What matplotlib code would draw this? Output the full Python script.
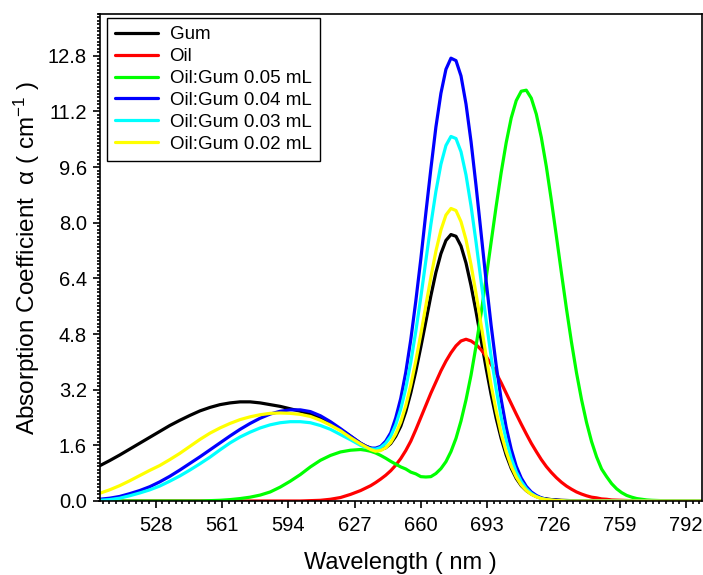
import matplotlib
matplotlib.use("Agg")
import matplotlib.pyplot as plt
from matplotlib.ticker import MultipleLocator, AutoMinorLocator, FormatStrFormatter

plt.rcParams['font.family'] = ['Liberation Sans', 'DejaVu Sans']
plt.rcParams['mathtext.fontset'] = 'custom'
plt.rcParams['mathtext.rm'] = 'Liberation Sans'
plt.rcParams['mathtext.it'] = 'Liberation Sans:italic'

####################################################################
# data

wavelength = [500, 505, 510, 515, 520, 525, 530, 535, 540, 545,
              550, 555, 560, 565, 570, 575, 580, 585, 590, 595,
              600, 605, 610, 615, 620, 625,
              630, 632.5, 635, 637.5, 640, 642.5, 645, 647.5,
              650, 652.5, 655, 657.5, 660, 662.5, 665, 667.5, 670, 672.5,
              675, 677.5, 680, 682.5, 685, 687.5, 690, 692.5, 695, 697.5,
              700, 702.5, 705, 707.5, 710, 712.5, 715, 717.5, 720, 722.5,
              725, 727.5, 730,
              732.5, 735, 737.5, 740, 742.5, 745, 747.5, 750, 752.5, 755,
              757.5, 760, 762.5, 765, 767.5, 770, 772.5, 775,
              780, 785, 790, 795, 800]

gum = [1.01, 1.16, 1.32, 1.49, 1.66, 1.83, 2.00, 2.17, 2.32, 2.46,
       2.59, 2.69, 2.77, 2.82, 2.85, 2.85, 2.82, 2.77, 2.72, 2.65,
       2.58, 2.49, 2.38, 2.23, 2.05, 1.86,
       1.66, 1.58, 1.52, 1.48, 1.48, 1.53, 1.65, 1.86,
       2.15, 2.57, 3.11, 3.73, 4.43, 5.16, 5.90, 6.57, 7.11, 7.49,
       7.66, 7.61, 7.33, 6.84, 6.19, 5.44, 4.64, 3.82, 3.06, 2.38,
       1.80, 1.32, 0.94, 0.65, 0.44, 0.30, 0.20, 0.13, 0.08, 0.06,
       0.04, 0.03, 0.02,
       0.015, 0.01, 0.01, 0.01, 0.005, 0, 0, 0, 0, 0,
       0, 0, 0, 0, 0, 0, 0, 0,
       0, 0, 0, 0, 0]

oil = [0, 0, 0, 0, 0, 0, 0, 0, 0, 0,
       0, 0, 0, 0, 0, 0, 0, 0, 0, 0,
       0, 0.01, 0.02, 0.05, 0.10, 0.19,
       0.30, 0.37, 0.44, 0.53, 0.63, 0.74, 0.87, 1.03,
       1.22, 1.45, 1.72, 2.05, 2.40, 2.75, 3.10, 3.42, 3.74, 4.02,
       4.26, 4.46, 4.60, 4.65, 4.60, 4.50, 4.35, 4.16, 3.93, 3.68,
       3.40, 3.10, 2.80, 2.50, 2.21, 1.93, 1.66, 1.42, 1.19, 0.99,
       0.82, 0.67, 0.54,
       0.43, 0.34, 0.26, 0.20, 0.15, 0.11, 0.09, 0.06, 0.05, 0.03,
       0.025, 0.02, 0.015, 0.01, 0.005, 0, 0, 0,
       0, 0, 0, 0, 0]

mix_005 = [0, 0, 0, 0, 0, 0, 0, 0, 0, 0,
           0, 0.01, 0.02, 0.04, 0.07, 0.11, 0.17, 0.26, 0.40, 0.57,
           0.76, 0.98, 1.17, 1.31, 1.41, 1.46,
           1.48, 1.46, 1.43, 1.38, 1.31, 1.23, 1.14, 1.06,
           0.98, 0.92, 0.83, 0.78, 0.70, 0.69, 0.70, 0.79, 0.93, 1.13,
           1.42, 1.80, 2.30, 2.91, 3.62, 4.46, 5.39, 6.40, 7.44, 8.47,
           9.44, 10.30, 11.01, 11.51, 11.78, 11.81, 11.58, 11.12, 10.45, 9.61,
           8.64, 7.61, 6.56,
           5.53, 4.57, 3.69, 2.92, 2.26, 1.71, 1.27, 0.92, 0.70, 0.50,
           0.35, 0.24, 0.16, 0.11, 0.07, 0.05, 0.03, 0.02,
           0.01, 0, 0, 0, 0]

mix_004 = [0.05, 0.08, 0.13, 0.21, 0.30, 0.41, 0.55, 0.71, 0.89, 1.08,
           1.27, 1.47, 1.67, 1.87, 2.06, 2.23, 2.38, 2.50, 2.58, 2.62,
           2.62, 2.57, 2.45, 2.28, 2.08, 1.87,
           1.66, 1.58, 1.52, 1.52, 1.57, 1.72, 1.96, 2.39,
           2.95, 3.70, 4.64, 5.75, 6.96, 8.28, 9.55, 10.75, 11.72, 12.41,
           12.73, 12.66, 12.22, 11.41, 10.33, 9.06, 7.70, 6.33, 5.05, 3.91,
           2.92, 2.12, 1.49, 1.00, 0.66, 0.42, 0.26, 0.16, 0.09, 0.05,
           0.03, 0.02, 0.01,
           0, 0, 0, 0, 0, 0, 0, 0, 0, 0,
           0, 0, 0, 0, 0, 0, 0, 0,
           0, 0, 0, 0, 0]

mix_003 = [0.02, 0.04, 0.08, 0.15, 0.23, 0.32, 0.43, 0.57, 0.72, 0.89,
           1.07, 1.26, 1.47, 1.67, 1.84, 1.98, 2.10, 2.19, 2.25, 2.28,
           2.28, 2.25, 2.17, 2.06, 1.91, 1.76,
           1.60, 1.54, 1.50, 1.49, 1.54, 1.66, 1.86, 2.19,
           2.64, 3.24, 3.99, 4.88, 5.86, 6.91, 7.95, 8.90, 9.68, 10.22,
           10.48, 10.42, 10.04, 9.37, 8.48, 7.44, 6.32, 5.20, 4.15, 3.22,
           2.40, 1.75, 1.23, 0.84, 0.56, 0.36, 0.22, 0.13, 0.07, 0.04,
           0.02, 0.01, 0.01,
           0, 0, 0, 0, 0, 0, 0, 0, 0, 0,
           0, 0, 0, 0, 0, 0, 0, 0,
           0, 0, 0, 0, 0]

mix_002 = [0.22, 0.32, 0.44, 0.58, 0.73, 0.88, 1.02, 1.19, 1.37, 1.57,
           1.77, 1.95, 2.10, 2.23, 2.34, 2.42, 2.48, 2.52, 2.53, 2.52,
           2.49, 2.43, 2.32, 2.18, 2.02, 1.82,
           1.64, 1.56, 1.48, 1.43, 1.45, 1.53, 1.68, 1.93,
           2.27, 2.74, 3.33, 4.03, 4.80, 5.62, 6.43, 7.18, 7.79, 8.22,
           8.41, 8.35, 8.03, 7.51, 6.79, 5.96, 5.07, 4.18, 3.33, 2.59,
           1.94, 1.42, 1.00, 0.69, 0.46, 0.30, 0.19, 0.12, 0.07, 0.04,
           0.03, 0.01, 0.01,
           0, 0, 0, 0, 0, 0, 0, 0, 0, 0,
           0, 0, 0, 0, 0, 0, 0, 0,
           0, 0, 0, 0, 0]

labels = ['Gum', 'Oil', 'Oil:Gum 0.05 mL', 'Oil:Gum 0.04 mL',
          'Oil:Gum 0.03 mL', 'Oil:Gum 0.02 mL']
colors = ['#000000', '#ff0000', '#00ff00', '#0000ff', '#00ffff', '#ffff00']

####################################################################

fig = plt.figure(figsize=(7.03, 5.75), dpi=100)
ax = fig.add_axes([99.5 / 703, 1 - 501 / 575, 602.5 / 703, 487 / 575])

series = [gum, oil, mix_005, mix_004, mix_003, mix_002]
for values, lab, col in zip(series, labels, colors):
    ax.plot(wavelength, values, color=col, lw=2.3, label=lab,
            solid_joinstyle='round', solid_capstyle='round')

ax.set_xlim(500, 800)
ax.set_ylim(0, 14)

ax.xaxis.set_major_locator(MultipleLocator(33))
ax.xaxis.set_minor_locator(AutoMinorLocator(10))
ax.yaxis.set_major_locator(MultipleLocator(1.6))
ax.yaxis.set_minor_locator(AutoMinorLocator(16))
ax.yaxis.set_major_formatter(FormatStrFormatter('%.1f'))

ax.tick_params(which='both', direction='out', top=False, right=False, width=1.2)
ax.tick_params(which='major', length=5, labelsize=14.5)
ax.tick_params(axis='x', which='major', pad=6)
ax.tick_params(axis='y', which='major', pad=4)
ax.tick_params(which='minor', length=2.5)
for sp in ax.spines.values():
    sp.set_linewidth(1.2)

ax.set_xlabel('Wavelength ( nm )', fontsize=17, labelpad=12)
ax.set_ylabel('Absorption Coefficient  α ( cm$^{\\mathregular{-1}}$ )',
              fontsize=17.5, labelpad=4)

leg = ax.legend(loc='upper left', bbox_to_anchor=(0.012, 0.992), borderaxespad=0,
                fontsize=13.5, handlelength=2.3, handletextpad=0.6,
                labelspacing=0.25, fancybox=False, framealpha=1,
                borderpad=0.45)
leg.get_frame().set_edgecolor('black')
leg.get_frame().set_linewidth(1.0)

fig.savefig('out.png', dpi=100)
